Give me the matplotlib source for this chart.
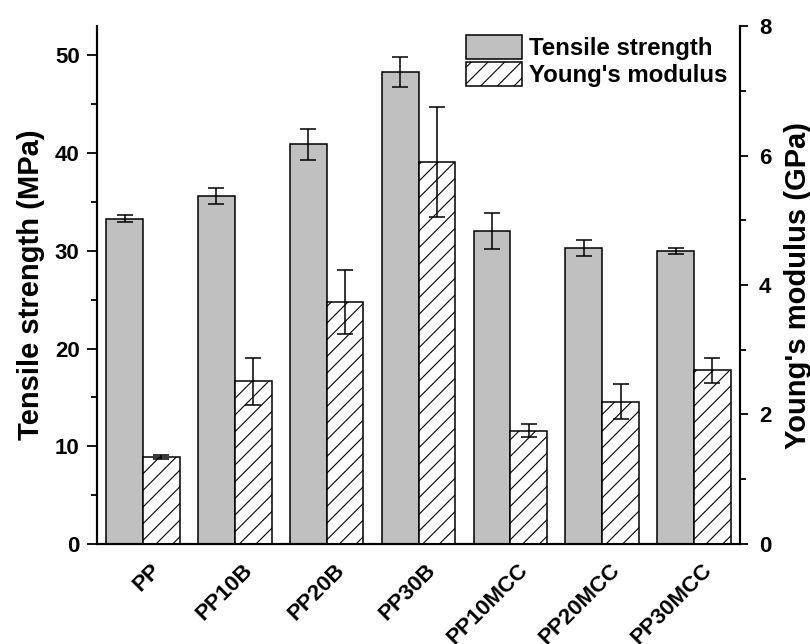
import numpy as np
import matplotlib
matplotlib.use("Agg")
import matplotlib.pyplot as plt
from matplotlib.ticker import MultipleLocator
import matplotlib.transforms as mtransforms

categories = ["PP", "PP10B", "PP20B", "PP30B", "PP10MCC", "PP20MCC", "PP30MCC"]
tensile = [33.3, 35.6, 40.9, 48.3, 32.0, 30.3, 30.0]
tensile_err = [0.4, 0.8, 1.6, 1.55, 1.85, 0.85, 0.3]
modulus = [1.35, 2.51, 3.74, 5.90, 1.75, 2.20, 2.68]
modulus_err = [0.03, 0.36, 0.49, 0.85, 0.10, 0.27, 0.20]

plt.rcParams['font.family'] = ['Liberation Sans', 'DejaVu Sans']
plt.rcParams['font.weight'] = 'bold'
plt.rcParams['hatch.linewidth'] = 0.8

fig = plt.figure(figsize=(8.1, 6.44), dpi=100)
ax = fig.add_axes([0.1198, 0.1553, 0.7938, 0.8043])
ax2 = ax.twinx()

x = np.arange(len(categories))
w = 0.4
ekw = dict(ecolor='black', elinewidth=1.1, capsize=6, capthick=1.1)
b1 = ax.bar(x - w/2, tensile, w, yerr=tensile_err, color='#C0C0C0',
            edgecolor='black', linewidth=1.1, error_kw=ekw, label='Tensile strength')
b2 = ax2.bar(x + w/2, modulus, w, yerr=modulus_err, color='white',
             edgecolor='black', linewidth=1.1, hatch='//', error_kw=ekw,
             label="Young's modulus")

ax.set_xlim(-0.5, 6.5)
ax.set_ylim(0, 53)
ax2.set_ylim(0, 8)

ax.yaxis.set_major_locator(MultipleLocator(10))
ax.yaxis.set_minor_locator(MultipleLocator(5))
ax2.yaxis.set_major_locator(MultipleLocator(2))
ax2.yaxis.set_minor_locator(MultipleLocator(1))

for a in (ax, ax2):
    a.spines['top'].set_visible(False)
    for s in a.spines.values():
        s.set_linewidth(1.5)
ax.tick_params(axis='y', which='major', length=7, width=1.3, labelsize=16, direction='out', pad=5.5)
ax.tick_params(axis='y', which='minor', length=4.5, width=1.3, direction='out')
ax2.tick_params(axis='y', which='major', length=5.5, width=1.3, labelsize=16, direction='out', pad=8)
ax2.tick_params(axis='y', which='minor', length=4.5, width=1.3, direction='out')

ax.set_xticks(x)
ax.set_xticklabels(categories, rotation=45, ha='right', va='top',
                   rotation_mode='anchor', fontsize=16, fontweight='bold')
ax.tick_params(axis='x', length=0, pad=3.5)
offset = mtransforms.ScaledTranslation(0.07, -0.11, fig.dpi_scale_trans)
for lbl in ax.get_xticklabels():
    lbl.set_transform(lbl.get_transform() + offset)

for lbl in ax.get_yticklabels() + ax2.get_yticklabels():
    lbl.set_fontweight('bold')

ax.set_ylabel('Tensile strength (MPa)', fontsize=21, fontweight='bold', labelpad=7)
ax2.set_ylabel("Young's modulus (GPa)", fontsize=21, fontweight='bold', labelpad=9)

ax2.legend([b1, b2], ['Tensile strength', "Young's modulus"], loc='upper right',
           bbox_to_anchor=(0.981, 0.983), frameon=False,
           handlelength=2.33, handleheight=1.15, labelspacing=0.08,
           handletextpad=0.3, borderpad=0, borderaxespad=0,
           prop=dict(weight='bold', size=17.3))

fig.savefig('out.png', dpi=100)
